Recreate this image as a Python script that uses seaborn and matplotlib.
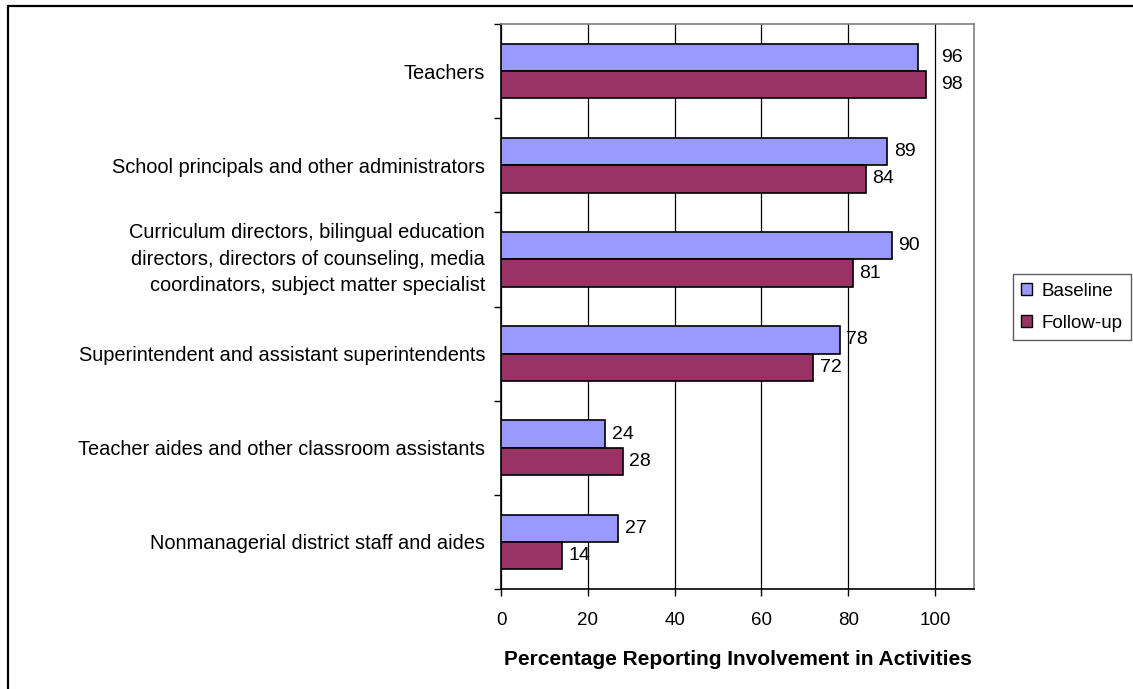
"""Grouped horizontal bars: involvement by staff group, baseline vs follow-up."""

import matplotlib.pyplot as plt
import matplotlib.patches as mpatches
from matplotlib.lines import Line2D
from matplotlib.transforms import ScaledTranslation
import pandas as pd
import seaborn as sns

CATEGORIES = [
    "Teachers",
    "School principals and other administrators",
    "Curriculum directors, bilingual education\n"
    "directors, directors of counseling, media\n"
    "coordinators, subject matter specialist",
    "Superintendent and assistant superintendents",
    "Teacher aides and other classroom assistants",
    "Nonmanagerial district staff and aides",
]
SERIES = ["Baseline", "Follow-up"]
BASELINE = [96, 89, 90, 78, 24, 27]
FOLLOW_UP = [98, 84, 81, 72, 28, 14]
X_TICKS = [0, 20, 40, 60, 80, 100]
X_LABEL = "Percentage Reporting Involvement in Activities"

COLORS = {"Baseline": "#9999FF", "Follow-up": "#993366"}

sns.set_style("white")
plt.rcParams["font.family"] = ["Liberation Sans", "DejaVu Sans"]
plt.rcParams["text.color"] = "black"
plt.rcParams["xtick.color"] = "black"
plt.rcParams["ytick.color"] = "black"
plt.rcParams["axes.labelcolor"] = "black"

df = pd.DataFrame({
    "group": CATEGORIES * 2,
    "series": [SERIES[0]] * len(CATEGORIES) + [SERIES[1]] * len(CATEGORIES),
    "pct": BASELINE + FOLLOW_UP,
})

fig = plt.figure(figsize=(11.33, 6.89), dpi=100)
ax = fig.add_axes([0.4422, 0.1451, 0.4175, 0.8201])

sns.barplot(
    data=df, y="group", x="pct", hue="series", order=CATEGORIES,
    hue_order=SERIES, palette=COLORS, orient="h", width=0.58, gap=0,
    edgecolor="black", linewidth=1.2, saturation=1, legend=False, ax=ax,
    zorder=3,
)

ax.set_xlim(0, 109)
ax.set_ylim(len(CATEGORIES) - 0.5, -0.5)
ax.set_xticks(X_TICKS)
ax.set_xticklabels([str(t) for t in X_TICKS], fontsize=13.5)
ax.xaxis.grid(True, color="black", linewidth=0.9, zorder=0)
ax.set_axisbelow(True)

# labels sit between the tick marks, ticks mark the group boundaries
bounds = [i - 0.5 for i in range(len(CATEGORIES) + 1)]
ax.set_yticks(bounds)
ax.set_yticklabels([""] * len(bounds))
ax.set_yticks(range(len(CATEGORIES)), minor=True)
ax.set_yticklabels(CATEGORIES, minor=True, fontsize=14.4, linespacing=1.5,
                   ha="right", multialignment="right")
ax.tick_params(axis="y", which="major", direction="out", length=5,
               width=1, color="black", left=True)
ax.tick_params(axis="y", which="minor", length=0, pad=11.5)
ax.tick_params(axis="x", direction="out", length=5, width=1, color="black",
               bottom=True, pad=11.5)
ax.set_ylabel("")
ax.set_xlabel(X_LABEL, fontsize=15, fontweight="bold", labelpad=15)

# the wrapped label sits a little above its group centre in the original
for lbl in ax.get_yticklabels(minor=True):
    if "\n" in lbl.get_text():
        lbl.set_transform(lbl.get_transform()
                          + ScaledTranslation(0, 0.06, fig.dpi_scale_trans))

for side in ("left", "bottom"):
    ax.spines[side].set_color("black")
    ax.spines[side].set_linewidth(1.2)
for side in ("top", "right"):
    ax.spines[side].set_color("#808080")
    ax.spines[side].set_linewidth(1.2)

for cont, vals in zip(ax.containers, [BASELINE, FOLLOW_UP]):
    for bar, v in zip(cont, vals):
        lx = v + 1.5
        if lx < 100.5 and lx + 5 > 100:
            lx = 101.5  # keep clear of the 100 gridline
        ax.text(lx, bar.get_y() + bar.get_height() / 2, str(v),
                va="center", ha="left", fontsize=14)

handles = [mpatches.Patch(facecolor=COLORS[s], edgecolor="black", linewidth=1)
           for s in SERIES]
fig.legend(handles, SERIES, loc="center left",
           bbox_to_anchor=(0.894, 0.5544), frameon=True, fancybox=False,
           edgecolor="#333333", fontsize=13.5, handlelength=0.59,
           handleheight=0.59, handletextpad=0.5, borderpad=0.45,
           labelspacing=0.8, borderaxespad=0)

# chart-area border, only top and left edges visible in the original
fig.add_artist(Line2D([0.007, 1.0], [0.991, 0.991], color="black",
                      linewidth=1.6, transform=fig.transFigure))
fig.add_artist(Line2D([0.007, 0.007], [0.0, 0.991], color="black",
                      linewidth=1.6, transform=fig.transFigure))

fig.savefig("out.png", dpi=100)
plt.close(fig)
